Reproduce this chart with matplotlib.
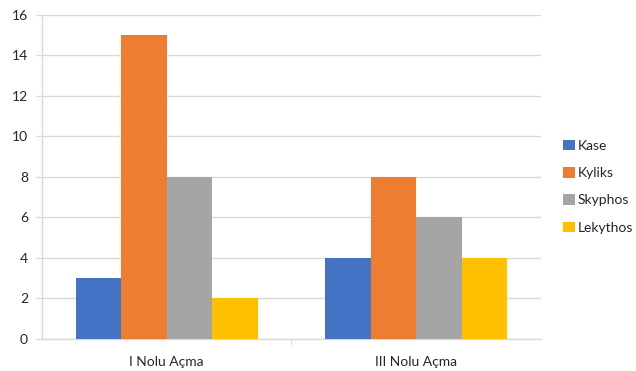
import matplotlib.pyplot as plt
import numpy as np

categories = ['I Nolu Açma', 'III Nolu Açma']
series = ['Kase', 'Kyliks', 'Skyphos', 'Lekythos']
values = {
    'Kase': [3, 4],
    'Kyliks': [15, 8],
    'Skyphos': [8, 6],
    'Lekythos': [2, 4],
}
colors = ['#4472C4', '#ED7D31', '#A5A5A5', '#FFC000']
yticks = [0, 2, 4, 6, 8, 10, 12, 14, 16]

plt.rcParams['font.family'] = ['Lato', 'DejaVu Sans']

fig = plt.figure(figsize=(6.36, 3.71), dpi=100)
ax = fig.add_axes([0.066, 0.0863, 0.7846, 0.8733])

x = np.arange(len(categories))
w = 0.182
for i, s in enumerate(series):
    ax.bar(x + (i - 1.5) * w, values[s], w, color=colors[i], label=s, zorder=3)

ax.set_xlim(-0.5, 1.5)
ax.set_ylim(0, 16)
ax.set_yticks(yticks)
ax.grid(axis='y', color='#D9D9D9', linewidth=1, zorder=0)
ax.set_xticks(x)
ax.set_xticklabels(categories)
ax.set_xticks([0.5], minor=True)
ax.tick_params(axis='x', which='major', length=0, pad=12, labelsize=10, labelcolor='#262626')
ax.tick_params(axis='x', which='minor', length=5, color='#D9D9D9')
ax.tick_params(axis='y', length=4, color='#D9D9D9', labelsize=10, labelcolor='#262626', pad=6)
for side in ['top', 'right']:
    ax.spines[side].set_visible(False)
for side in ['left', 'bottom']:
    ax.spines[side].set_color('#D9D9D9')
    ax.spines[side].set_linewidth(1)

ax.legend(loc='center left', bbox_to_anchor=(1.02, 0.47), frameon=False,
          handlelength=0.8, handleheight=0.8, handletextpad=0.2,
          labelspacing=1.1, fontsize=10, labelcolor='#262626')

fig.savefig('out.png', dpi=100)
